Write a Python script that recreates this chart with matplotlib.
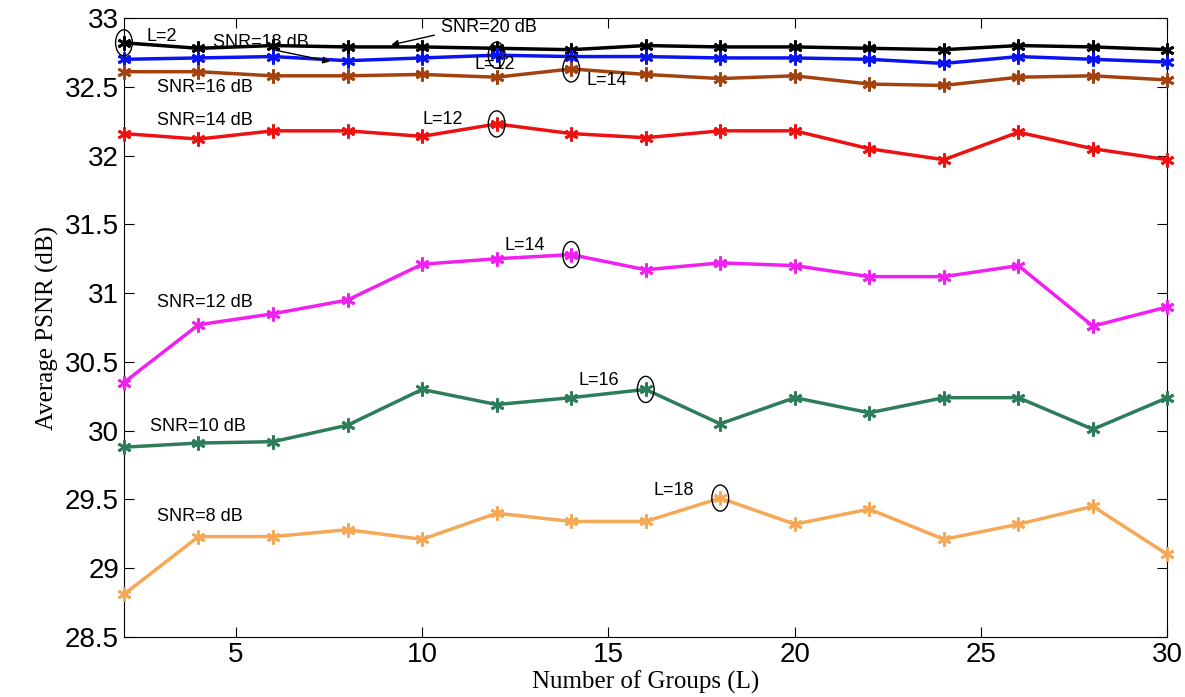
import matplotlib
matplotlib.use('Agg')
import matplotlib.pyplot as plt
from matplotlib.patches import Ellipse

# number of groups L
groups = [2, 4, 6, 8, 10, 12, 14, 16, 18, 20, 22, 24, 26, 28, 30]

# average PSNR (dB) per SNR
psnr_20 = [32.82, 32.78, 32.80, 32.79, 32.79, 32.78, 32.77, 32.80, 32.79, 32.79, 32.78, 32.77, 32.80, 32.79, 32.77]
psnr_18 = [32.70, 32.71, 32.72, 32.69, 32.71, 32.73, 32.72, 32.72, 32.71, 32.71, 32.70, 32.67, 32.72, 32.70, 32.68]
psnr_16 = [32.61, 32.61, 32.58, 32.58, 32.59, 32.57, 32.63, 32.59, 32.56, 32.58, 32.52, 32.51, 32.57, 32.58, 32.55]
psnr_14 = [32.16, 32.12, 32.18, 32.18, 32.14, 32.23, 32.16, 32.13, 32.18, 32.18, 32.05, 31.97, 32.17, 32.05, 31.97]
psnr_12 = [30.35, 30.77, 30.85, 30.95, 31.21, 31.25, 31.28, 31.17, 31.22, 31.20, 31.12, 31.12, 31.20, 30.76, 30.90]
psnr_10 = [29.88, 29.91, 29.92, 30.04, 30.30, 30.19, 30.24, 30.30, 30.05, 30.24, 30.13, 30.24, 30.24, 30.01, 30.24]
psnr_8 = [28.81, 29.23, 29.23, 29.28, 29.21, 29.40, 29.34, 29.34, 29.51, 29.32, 29.43, 29.21, 29.32, 29.45, 29.10]

series = [
    (psnr_20, 'black'),
    (psnr_18, '#0a14f0'),
    (psnr_16, '#a3420f'),
    (psnr_14, '#ee1111'),
    (psnr_12, '#f020f0'),
    (psnr_10, '#2e7d5a'),
    (psnr_8, '#f5a855'),
]

fig = plt.figure(figsize=(11.85, 6.97), dpi=100)
ax = fig.add_axes([0.1046, 0.0861, 0.8806, 0.888])

for vals, col in series:
    ax.plot(groups, vals, color=col, lw=2.5, marker=(6, 2, 0), ms=10, mew=2, clip_on=False, zorder=3)

ax.set_xlim(2, 30)
ax.set_ylim(28.5, 33)
ax.set_xticks([5, 10, 15, 20, 25, 30])
ax.set_yticks([28.5, 29, 29.5, 30, 30.5, 31, 31.5, 32, 32.5, 33])
ax.set_yticklabels(['28.5', '29', '29.5', '30', '30.5', '31', '31.5', '32', '32.5', '33'])
ax.tick_params(direction='in', top=True, right=True, length=7, labelsize=20)
for lab in ax.get_xticklabels() + ax.get_yticklabels():
    lab.set_family('Liberation Sans')

ax.set_xlabel('Number of Groups (L)', family='Liberation Serif', fontsize=18, labelpad=2)
ax.set_ylabel('Average PSNR (dB)', family='Liberation Serif', fontsize=18, labelpad=4)

tk = dict(fontsize=13, family='Liberation Sans')

# SNR labels
ax.text(10.5, 32.9, 'SNR=20 dB', **tk)
ax.annotate('', xy=(9.1, 32.80), xytext=(10.4, 32.88),
            arrowprops=dict(arrowstyle='-|>', color='black', lw=1))
ax.text(4.4, 32.79, 'SNR=18 dB', **tk)
ax.annotate('', xy=(7.6, 32.68), xytext=(6.0, 32.77),
            arrowprops=dict(arrowstyle='-|>', color='black', lw=1))
ax.text(2.9, 32.46, 'SNR=16 dB', **tk)
ax.text(2.9, 32.22, 'SNR=14 dB', **tk)
ax.text(2.9, 30.90, 'SNR=12 dB', **tk)
ax.text(2.7, 30.0, 'SNR=10 dB', **tk)
ax.text(2.9, 29.34, 'SNR=8 dB', **tk)

# highlighted best points
ax.text(2.6, 32.83, 'L=2', **tk)
ax.text(11.4, 32.63, 'L=12', **tk)
ax.text(14.4, 32.51, 'L=14', **tk)
ax.text(10.0, 32.23, 'L=12', **tk)
ax.text(12.2, 31.31, 'L=14', **tk)
ax.text(14.2, 30.33, 'L=16', **tk)
ax.text(16.2, 29.53, 'L=18', **tk)

marks = [(2, psnr_20[0]), (12, psnr_18[5]), (14, psnr_16[6]), (12, psnr_14[5]),
         (14, psnr_12[6]), (16, psnr_10[7]), (18, psnr_8[8])]
for mx, my in marks:
    ax.add_patch(Ellipse((mx, my), 0.45, 0.19, fill=False, ec='black', lw=1, clip_on=False, zorder=4))

fig.savefig('out.png', dpi=100)
